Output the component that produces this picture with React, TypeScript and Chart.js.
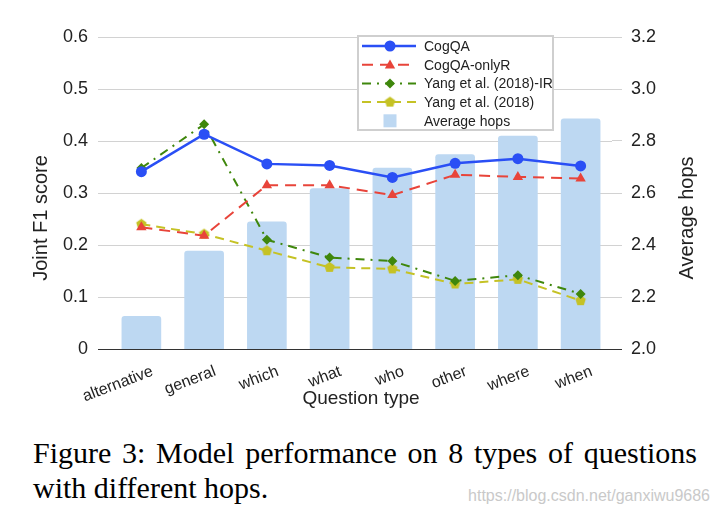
import React, { useEffect, useRef } from 'react';
import { Chart, registerables } from 'chart.js';

Chart.register(...registerables);

// ---------- data ----------
const categories = ['alternative', 'general', 'which', 'what', 'who', 'other', 'where', 'when'];
const cogQA = [0.341, 0.413, 0.356, 0.353, 0.330, 0.357, 0.366, 0.352];
const cogQAOnlyR = [0.234, 0.218, 0.315, 0.315, 0.296, 0.335, 0.331, 0.328];
const yangIR = [0.348, 0.432, 0.210, 0.176, 0.169, 0.131, 0.142, 0.106];
const yang = [0.240, 0.221, 0.189, 0.157, 0.154, 0.125, 0.134, 0.093];
const avgHops = [2.127, 2.378, 2.49, 2.618, 2.697, 2.749, 2.82, 2.887];

const seriesLabels = ['CogQA', 'CogQA-onlyR', 'Yang et al. (2018)-IR', 'Yang et al. (2018)', 'Average hops'];
const leftTitle = 'Joint F1 score';
const rightTitle = 'Average hops';
const xTitle = 'Question type';

const FONT = '"Liberation Sans", Arial, sans-serif';
const TEXT = '#222222';
const GRID = '#d2d2d2';
const ZERO = '#333333';
const BLUE = '#2a4ff5';
const RED = '#e8443a';
const GREEN = '#3f870c';
const YELLOW = '#c5c225';
const BAR = '#bdd8f2';

function makePentagon(color: string, r: number): HTMLCanvasElement {
  const c = document.createElement('canvas');
  const s = Math.ceil(r * 2 + 2);
  c.width = s;
  c.height = s;
  const ctx = c.getContext('2d')!;
  ctx.fillStyle = color;
  ctx.beginPath();
  for (let i = 0; i < 5; i++) {
    const a = -Math.PI / 2 + (i * 2 * Math.PI) / 5;
    const x = s / 2 + r * Math.cos(a);
    const y = s / 2 + r * Math.sin(a);
    if (i === 0) ctx.moveTo(x, y);
    else ctx.lineTo(x, y);
  }
  ctx.closePath();
  ctx.fill();
  return c;
}

function drawMarker(ctx: CanvasRenderingContext2D, style: any, x: number, y: number, r: number, color: string) {
  ctx.save();
  ctx.fillStyle = color;
  ctx.setLineDash([]);
  if (style instanceof HTMLCanvasElement) {
    ctx.drawImage(style, x - style.width / 2, y - style.height / 2);
    ctx.restore();
    return;
  }
  ctx.beginPath();
  if (style === 'circle') {
    ctx.arc(x, y, r, 0, Math.PI * 2);
  } else if (style === 'triangle') {
    for (let i = 0; i < 3; i++) {
      const a = -Math.PI / 2 + (i * 2 * Math.PI) / 3;
      const px = x + r * Math.cos(a);
      const py = y + r * Math.sin(a) + r * 0.15;
      if (i === 0) ctx.moveTo(px, py);
      else ctx.lineTo(px, py);
    }
    ctx.closePath();
  } else if (style === 'rectRot') {
    ctx.moveTo(x, y - r);
    ctx.lineTo(x + r, y);
    ctx.lineTo(x, y + r);
    ctx.lineTo(x - r, y);
    ctx.closePath();
  } else {
    ctx.rect(x - r, y - r, 2 * r, 2 * r);
  }
  ctx.fill();
  ctx.restore();
}

// Vertical axis titles, both reading bottom-to-top, centred on plot + category labels
const axisTitles = {
  id: 'axisTitles',
  afterDraw(chart: any) {
    const { ctx, chartArea } = chart;
    const cy = chartArea.top + (chartArea.bottom - chartArea.top) * 0.58;
    ctx.save();
    ctx.font = `20px ${FONT}`;
    ctx.fillStyle = TEXT;
    ctx.textAlign = 'center';
    ctx.textBaseline = 'middle';
    const left = chart.scales.y.left;
    ctx.save();
    ctx.translate(left + 14, cy);
    ctx.rotate(-Math.PI / 2);
    ctx.fillText(leftTitle, 0, 0);
    ctx.restore();
    const right = chart.scales.y1.right;
    ctx.save();
    ctx.translate(right - 14, cy);
    ctx.rotate(-Math.PI / 2);
    ctx.fillText(rightTitle, 0, 0);
    ctx.restore();
    ctx.restore();
  },
};

const boxLegend = {
  id: 'boxLegend',
  afterDraw(chart: any) {
    const { ctx, chartArea } = chart;
    const x0 = chartArea.left + 248;
    const y0 = chartArea.top - 1;
    const w = 195;
    const h = 94;
    ctx.save();
    ctx.fillStyle = '#ffffff';
    ctx.fillRect(x0, y0, w, h);
    ctx.strokeStyle = '#cfcfcf';
    ctx.lineWidth = 2;
    ctx.strokeRect(x0, y0, w, h);
    ctx.font = `14px ${FONT}`;
    ctx.textBaseline = 'middle';
    ctx.textAlign = 'left';
    chart.data.datasets.forEach((ds: any, i: number) => {
      const cy = y0 + 10 + i * 18.7;
      const lx0 = x0 + 4;
      const lx1 = x0 + 58;
      const mx = x0 + 32;
      if (ds.type === 'line') {
        ctx.save();
        ctx.strokeStyle = ds.borderColor;
        ctx.lineWidth = ds.borderWidth;
        ctx.setLineDash(ds.borderDash || []);
        ctx.beginPath();
        ctx.moveTo(lx0, cy);
        ctx.lineTo(lx1, cy);
        ctx.stroke();
        ctx.restore();
        drawMarker(ctx, ds.pointStyle, mx, cy, ds.pointRadius, ds.borderColor);
      } else {
        ctx.fillStyle = ds.backgroundColor;
        ctx.fillRect(mx - 6.5, cy - 6.5, 13, 13);
      }
      ctx.fillStyle = TEXT;
      ctx.fillText(ds.label, x0 + 66, cy + 1);
    });
    ctx.restore();
  },
};

const gridColor = (c: any) => (c.tick && (c.tick.value === 0 || c.tick.value === 2) ? ZERO : GRID);

export default function App() {
  const ref = useRef<HTMLCanvasElement | null>(null);

  useEffect(() => {
    if (!ref.current) return;
    const pent = makePentagon(YELLOW, 5.5);
    const chart = new Chart(ref.current, {
      type: 'bar',
      data: {
        labels: categories,
        datasets: [
          {
            type: 'line', label: seriesLabels[0], data: cogQA, yAxisID: 'y',
            borderColor: BLUE, backgroundColor: BLUE, borderWidth: 2.5,
            pointStyle: 'circle', pointRadius: 5.5, pointBackgroundColor: BLUE, pointBorderColor: BLUE, pointBorderWidth: 0,
            order: 0,
          },
          {
            type: 'line', label: seriesLabels[1], data: cogQAOnlyR, yAxisID: 'y',
            borderColor: RED, backgroundColor: RED, borderWidth: 2, borderDash: [11, 7],
            pointStyle: 'triangle', pointRadius: 6, pointBackgroundColor: RED, pointBorderColor: RED, pointBorderWidth: 0,
            order: 1,
          },
          {
            type: 'line', label: seriesLabels[2], data: yangIR, yAxisID: 'y',
            borderColor: GREEN, backgroundColor: GREEN, borderWidth: 2, borderDash: [9, 6, 2, 6],
            pointStyle: 'rectRot', pointRadius: 5, pointBackgroundColor: GREEN, pointBorderColor: GREEN, pointBorderWidth: 0,
            order: 2,
          },
          {
            type: 'line', label: seriesLabels[3], data: yang, yAxisID: 'y',
            borderColor: YELLOW, backgroundColor: YELLOW, borderWidth: 2, borderDash: [9, 6],
            pointStyle: pent, pointRadius: 5, pointBackgroundColor: YELLOW, pointBorderColor: YELLOW, pointBorderWidth: 0,
            order: 3,
          },
          {
            type: 'bar', label: seriesLabels[4], data: avgHops, yAxisID: 'y1',
            backgroundColor: BAR, borderRadius: 3, categoryPercentage: 0.8, barPercentage: 0.79,
            order: 10,
          },
        ] as any,
      },
      options: {
        responsive: false,
        animation: false,
        layout: { padding: { left: 27, right: 19, top: 37, bottom: 6 } },
        plugins: { legend: { display: false }, tooltip: { enabled: false } },
        scales: {
          x: {
            type: 'category',
            offset: true,
            grid: { display: false },
            border: { display: false },
            ticks: {
              font: { size: 16, family: FONT }, color: TEXT,
              minRotation: 21, maxRotation: 21, autoSkip: false, padding: 5, labelOffset: 11,
            },
            title: { display: true, text: xTitle, font: { size: 19, family: FONT }, color: TEXT, padding: { top: 4, bottom: 4 } },
            afterFit: (s: any) => { s.height = 65; },
          },
          y: {
            position: 'left', min: 0, max: 0.6,
            ticks: {
              stepSize: 0.1, font: { size: 18, family: FONT }, color: TEXT, padding: 10,
              callback: (v: any) => (v === 0 ? '0' : Number(v).toFixed(1)),
            },
            grid: { color: gridColor, tickColor: gridColor, tickLength: 12, lineWidth: 1 },
            border: { display: false },
            title: { display: false },
            afterFit: (s: any) => { s.width = 83; },
          },
          y1: {
            position: 'right', min: 2, max: 3.2,
            ticks: {
              stepSize: 0.2, font: { size: 18, family: FONT }, color: TEXT, padding: 9,
              callback: (v: any) => Number(v).toFixed(1),
            },
            grid: { drawOnChartArea: false, color: gridColor, tickColor: gridColor, tickLength: 10, lineWidth: 1 },
            border: { display: false },
            title: { display: false },
            afterFit: (s: any) => { s.width = 89; },
          },
        },
      } as any,
      plugins: [axisTitles, boxLegend],
    });
    return () => chart.destroy();
  }, []);

  return (
    <div style={{ position: 'absolute', left: 0, top: 0, width: 720, height: 520, background: '#fff', overflow: 'hidden' }}>
      <canvas ref={ref} width={720} height={420} style={{ position: 'absolute', left: 0, top: 0 }} />
      <div
        style={{
          position: 'absolute', left: 33, top: 435, width: 664,
          fontFamily: '"Liberation Serif", "Times New Roman", serif', fontSize: 30, lineHeight: '35px', color: '#000',
        }}
      >
        <div style={{ textAlign: 'justify', textAlignLast: 'justify' }}>Figure 3: Model performance on 8 types of questions</div>
        <div style={{ textAlign: 'left' }}>with different hops.</div>
      </div>
      <div
        style={{
          position: 'absolute', right: 10, top: 487, fontFamily: FONT, fontSize: 16, color: '#c9c9c9',
        }}
      >
        https://blog.csdn.net/ganxiwu9686
      </div>
    </div>
  );
}
